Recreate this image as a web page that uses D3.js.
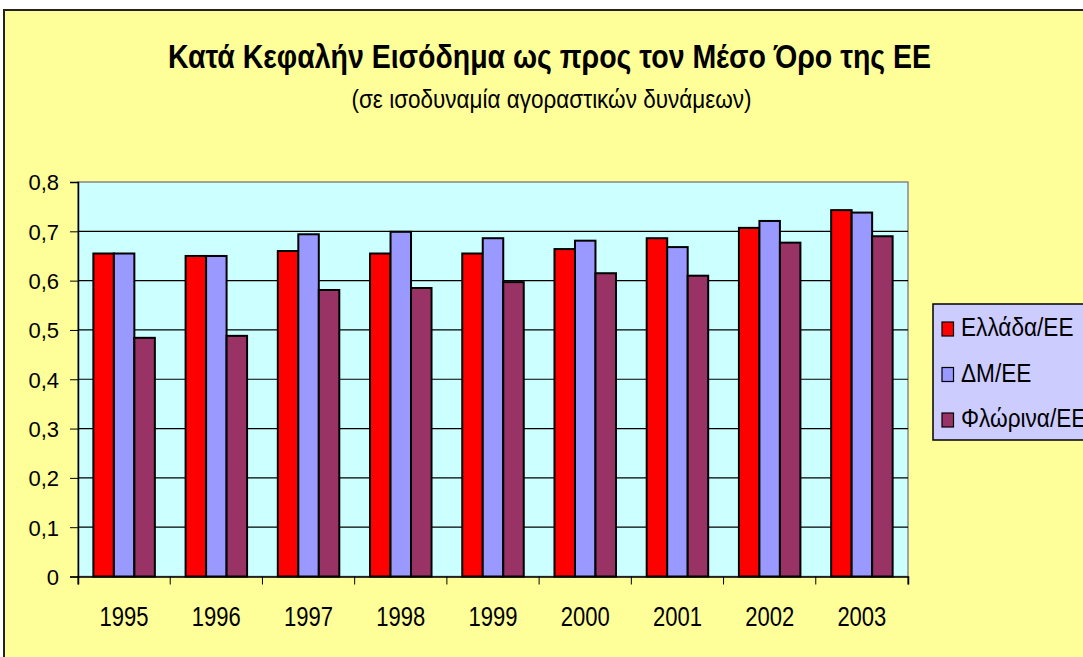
<!DOCTYPE html>
<html><head><meta charset="utf-8">
<script src="https://cdn.jsdelivr.net/npm/d3@7"></script>
<style>
html,body{margin:0;padding:0;background:#fff;}
svg{display:block;font-family:"Liberation Sans",Arial,sans-serif;}
</style></head>
<body>
<svg id="c" width="1083" height="657"></svg>
<script>
const years = ["1995","1996","1997","1998","1999","2000","2001","2002","2003"];
const seriesNames = ["Ελλάδα/ΕΕ","ΔΜ/ΕΕ","Φλώρινα/ΕΕ"];
const greece  = [0.655,0.650,0.660,0.655,0.655,0.664,0.686,0.707,0.743];
const dm      = [0.655,0.650,0.694,0.699,0.686,0.681,0.668,0.721,0.738];
const florina = [0.484,0.488,0.581,0.585,0.597,0.615,0.610,0.677,0.690];
const yTicks  = [0,0.1,0.2,0.3,0.4,0.5,0.6,0.7,0.8];
const titleText = "Κατά Κεφαλήν Εισόδημα ως προς τον Μέσο Όρο της ΕΕ";
const subtitleText = "(σε ισοδυναμία αγοραστικών δυνάμεων)";
const colors = ["#FF0000","#9999FF","#993366"];
const seriesValues = [greece, dm, florina];

const svg = d3.select("#c");

// chart area
svg.append("rect").attr("x",4).attr("y",10).attr("width",1200).attr("height",700)
  .attr("fill","#FFFF99").attr("stroke","#222").attr("stroke-width",2);

const L=78, R=908, T=182, B=576.5;
const x = d3.scaleBand().domain(years).range([L,R]).paddingInner(0).paddingOuter(0);
const xs = d3.scaleBand().domain(seriesNames).range([0,x.bandwidth()]).paddingInner(0).paddingOuter(0.75);
const y = d3.scaleLinear().domain([0,0.8]).range([B,T]);

// plot area
svg.append("rect").attr("x",L).attr("y",T).attr("width",R-L).attr("height",B-T)
  .attr("fill","#CCFFFF").attr("stroke","#888").attr("stroke-width",1.5);

// gridlines
svg.append("g").selectAll("line").data(yTicks.filter(d=>d>0 && d<0.8)).join("line")
  .attr("x1",L).attr("x2",R).attr("y1",d=>y(d)).attr("y2",d=>y(d))
  .attr("stroke","#000").attr("stroke-width",1.2);

// bars
const g = svg.append("g");
seriesNames.forEach((s,i)=>{
  g.append("g").selectAll("rect").data(years).join("rect")
    .attr("x",d=>x(d)+xs(s)).attr("width",xs.bandwidth())
    .attr("y",(d,j)=>y(seriesValues[i][j])).attr("height",(d,j)=>B-y(seriesValues[i][j]))
    .attr("fill",colors[i]).attr("stroke","#000").attr("stroke-width",2);
});

// axes
const fmt = d => d===0 ? "0" : d.toFixed(1).replace(".",",");
const ya = svg.append("g").attr("transform",`translate(${L},0)`)
  .call(d3.axisLeft(y).tickValues(yTicks).tickSize(8).tickPadding(11).tickFormat(fmt));
ya.select(".domain").attr("stroke","#000").attr("stroke-width",1.5);
ya.selectAll(".tick line").attr("stroke","#000");
ya.selectAll("text").attr("font-size",22).attr("font-family","Liberation Sans, Arial").attr("fill","#000").attr("dy","0.36em");

const xa = svg.append("g").attr("transform",`translate(0,${B})`)
  .call(d3.axisBottom(x).tickSize(8).tickFormat(""));
xa.select(".domain").attr("stroke","#000").attr("stroke-width",1.5);
xa.selectAll(".tick").remove();
const bounds = years.map(d=>x(d)).concat([R]);
xa.selectAll("line.b").data(bounds).join("line").attr("class","b")
  .attr("x1",d=>d).attr("x2",d=>d).attr("y1",0).attr("y2",8).attr("stroke","#000");

function stretchedText(parent, str, cx, baseline, size, width, anchor, weight){
  const t = parent.append("text").text(str).attr("font-size",size)
    .attr("font-weight",weight||"normal").attr("fill","#000").attr("text-anchor",anchor||"middle")
    .attr("x",cx).attr("y",baseline);
  if(width){ t.attr("textLength",width).attr("lengthAdjust","spacingAndGlyphs"); }
  return t;
}

// year labels
years.forEach(d=>{
  stretchedText(svg, d, x(d)+x.bandwidth()/2, 626, 27, 49, "middle");
});

// title
stretchedText(svg, titleText, 549.5, 68, 33, 763, "middle", "bold");
stretchedText(svg, subtitleText, 551.5, 108, 26, 400, "middle");

// legend
const lg = svg.append("g");
lg.append("rect").attr("x",933).attr("y",304).attr("width",200).attr("height",136)
  .attr("fill","#CCCCFF").attr("stroke","#000").attr("stroke-width",1.5);
const legBase = [336,381.5,427];
seriesNames.forEach((s,i)=>{
  lg.append("rect").attr("x",942).attr("y",legBase[i]-14).attr("width",11.5).attr("height",14)
    .attr("fill",colors[i]).attr("stroke","#000").attr("stroke-width",1.2);
  lg.append("text").text(s).attr("font-size",26).attr("fill","#000")
    .attr("transform",`translate(961,${legBase[i]}) scale(0.87,1)`);
});
</script>
</body></html>
